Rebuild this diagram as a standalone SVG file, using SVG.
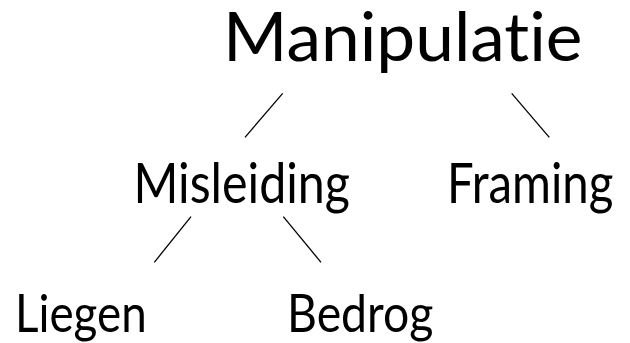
<svg xmlns="http://www.w3.org/2000/svg" width="630" height="343" viewBox="0 0 630 343">
<style>
text{font-family:Lato,"Open Sans","Liberation Sans",sans-serif;fill:#000;font-variant-ligatures:none;font-feature-settings:"liga" 0,"clig" 0;}
.l{stroke:#000;stroke-width:1.3;fill:none;}
</style>
<rect width="630" height="343" fill="#fff"/>
<g id="connectors">
<line class="l" x1="282.7" y1="93.3" x2="245" y2="137.3"/>
<line class="l" x1="511.7" y1="93.3" x2="549.3" y2="137.3"/>
<line class="l" x1="191" y1="216.7" x2="154.3" y2="262.3"/>
<line class="l" x1="283.3" y1="216.7" x2="321" y2="262.3"/>
</g>
<g id="manipulatie"><text x="223" y="60.7" font-size="67" textLength="359.5" lengthAdjust="spacingAndGlyphs">Manipulatie</text></g>
<g id="misleiding"><text x="133.5" y="202.7" font-size="57" textLength="216.5" lengthAdjust="spacingAndGlyphs">Misleiding</text></g>
<g id="framing"><text x="447" y="202.7" font-size="57" textLength="166.3" lengthAdjust="spacingAndGlyphs">Framing</text></g>
<g id="liegen"><text x="15" y="332.3" font-size="52" textLength="131.7" lengthAdjust="spacingAndGlyphs">Liegen</text></g>
<g id="bedrog"><text x="287" y="332.3" font-size="52" textLength="146.3" lengthAdjust="spacingAndGlyphs">Bedrog</text></g>
</svg>
